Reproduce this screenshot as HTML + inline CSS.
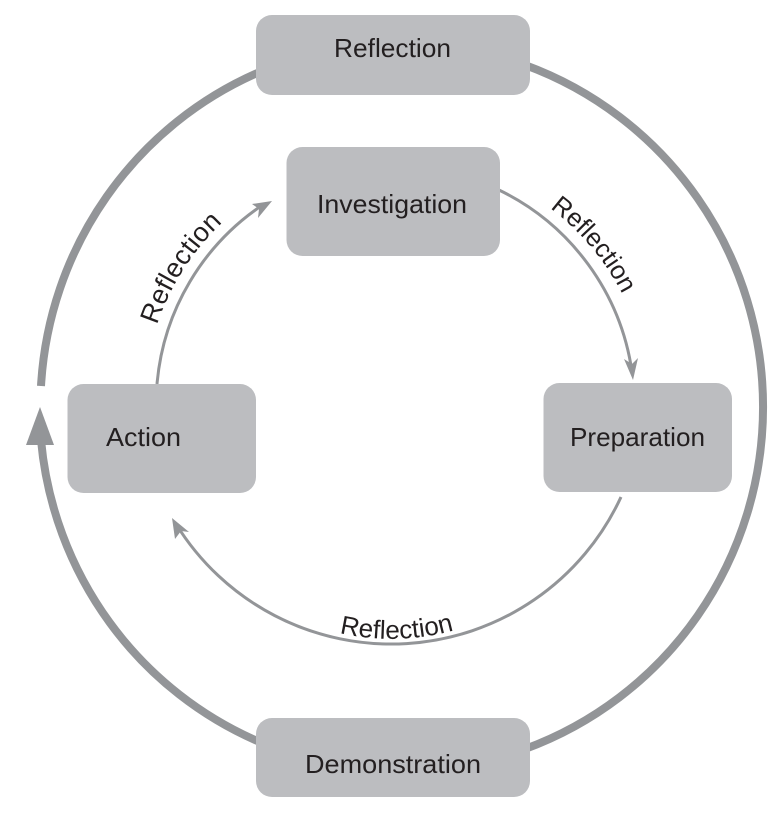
<!DOCTYPE html>
<html>
<head>
<meta charset="utf-8">
<style>
html,body{margin:0;padding:0;background:#fff;width:780px;height:820px;overflow:hidden}
svg{display:block}
text{font-family:"Liberation Sans",sans-serif;fill:#231f20}
</style>
</head>
<body>
<svg width="780" height="820" viewBox="0 0 780 820" xmlns="http://www.w3.org/2000/svg">
<defs>
<path id="pL" d="M157 325 A250 250 0 0 1 307 170"/>
<path id="pR" d="M550 208 A252 252 0 0 1 650 400"/>
<path id="pB" d="M339.5 633 A232 232 0 0 0 487.5 618"/>
</defs>
<!-- outer ring -->
<g fill="none" stroke="#939598" stroke-width="8">
<path d="M41 386 A361 364 0 0 1 262 71"/>
<path d="M525 65 A362 364 0 0 1 525 749"/>
<path d="M262 743 A361 364 0 0 1 41 440"/>
</g>
<polygon points="40,407 26,445 54,445" fill="#939598"/>
<!-- inner arcs -->
<g fill="none" stroke="#939598" stroke-width="3">
<path d="M157 384 A240 240 0 0 1 264 204"/>
<path d="M499 190 A240 240 0 0 1 632 372"/>
<path d="M621 497 A253 253 0 0 1 176 524"/>
</g>
<g fill="#939598">
<polygon points="272,201 252,204 259,209 258,218"/>
<polygon points="633,380 624,359 632,364 638,358"/>
<polygon points="172,518 175,539 181,531 189,532"/>
</g>
<!-- boxes -->
<g fill="#bcbdc0">
<rect x="256" y="15" width="274" height="80" rx="16"/>
<rect x="286.5" y="147" width="213.5" height="109" rx="16"/>
<rect x="543.5" y="383" width="188.5" height="109" rx="16"/>
<rect x="67.5" y="384" width="188.5" height="109" rx="16"/>
<rect x="256" y="718" width="274" height="79" rx="16"/>
</g>
<!-- labels -->
<g font-size="26">
<text x="334" y="57" textLength="117" lengthAdjust="spacingAndGlyphs">Reflection</text>
<text x="317" y="213" textLength="150" lengthAdjust="spacingAndGlyphs">Investigation</text>
<text x="570" y="446" textLength="135" lengthAdjust="spacingAndGlyphs">Preparation</text>
<text x="106" y="446" textLength="75" lengthAdjust="spacingAndGlyphs">Action</text>
<text x="305" y="773" textLength="176" lengthAdjust="spacingAndGlyphs">Demonstration</text>
</g>
<text font-size="27" letter-spacing="0.3"><textPath href="#pL">Reflection</textPath></text>
<text font-size="25.5"><textPath href="#pR">Reflection</textPath></text>
<text font-size="26"><textPath href="#pB">Reflection</textPath></text>
</svg>
</body>
</html>
